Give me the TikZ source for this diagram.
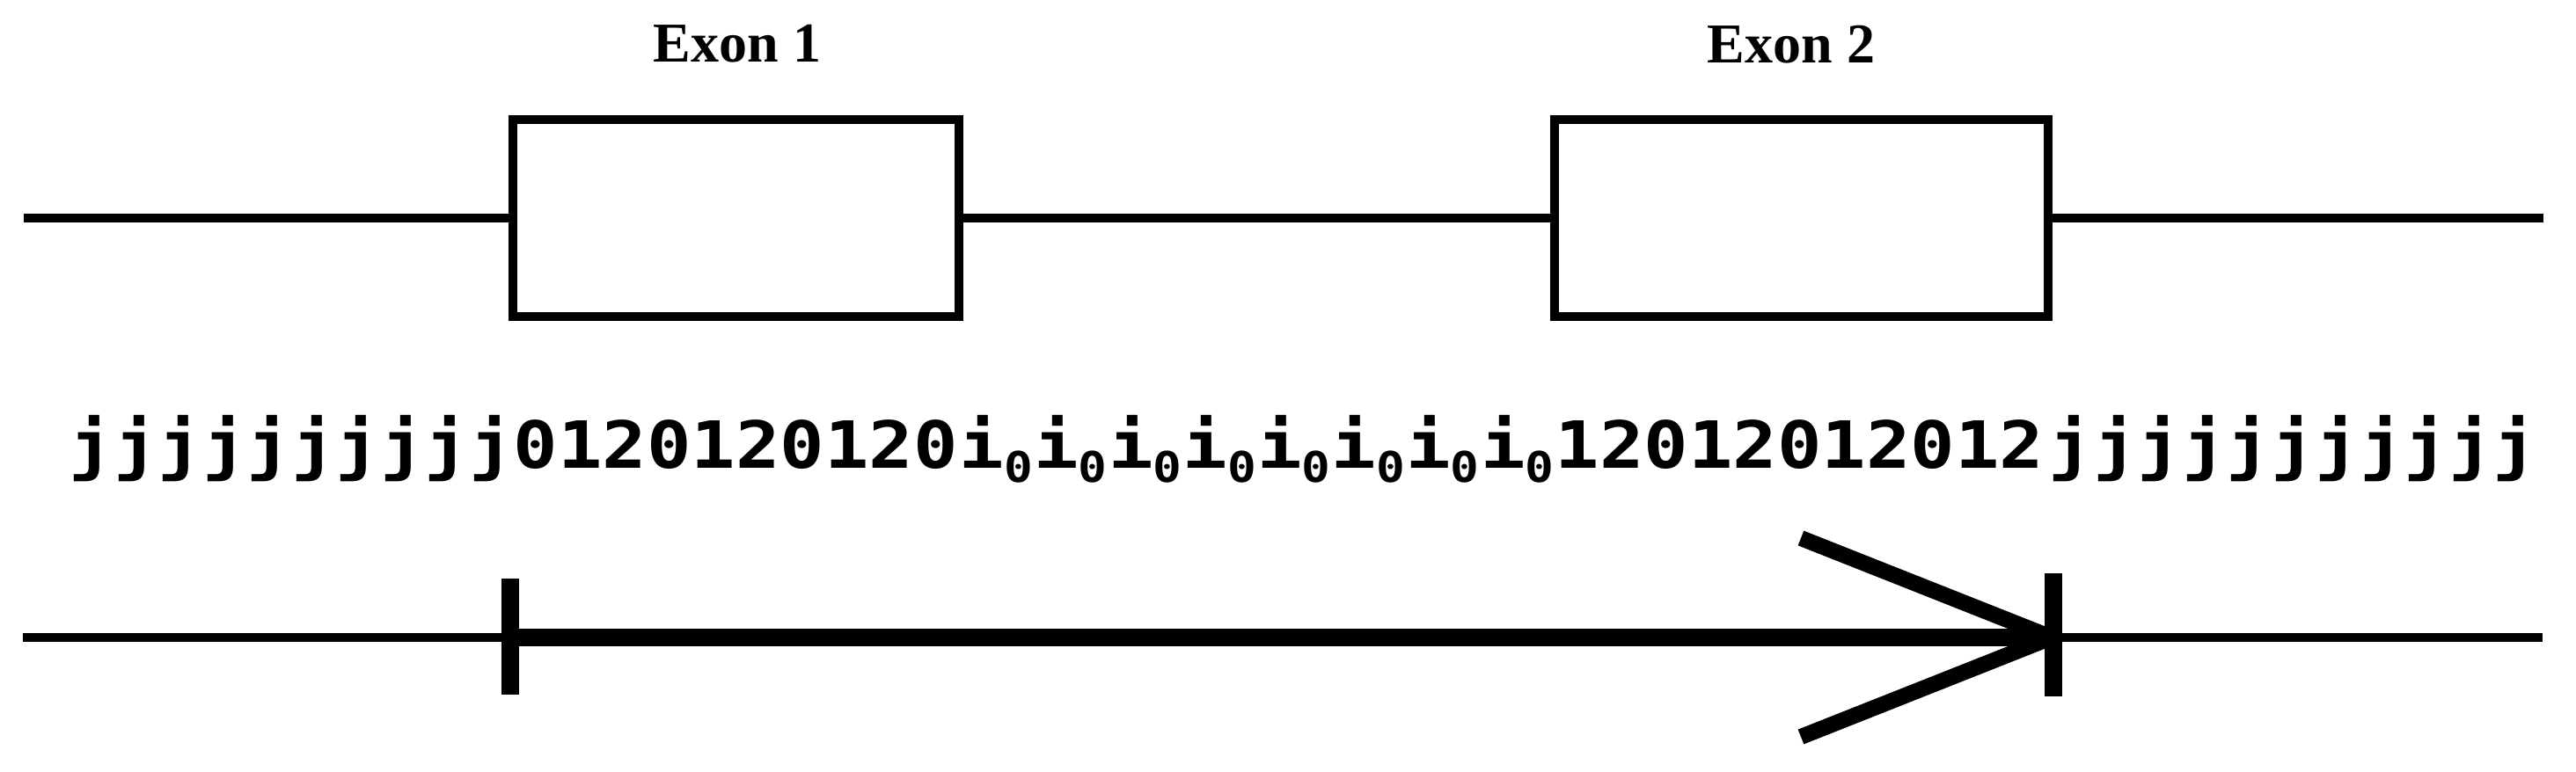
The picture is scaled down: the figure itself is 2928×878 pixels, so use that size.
\documentclass[tikz,border=0pt]{standalone}
\usepackage{fontspec}
\newfontfamily\seqfont[FakeStretch=1.134]{DejaVu Sans Mono}
\newfontfamily\labelfont{Liberation Serif}
\newcommand\izero{\makebox[21.15pt][l]{i\raisebox{-4pt}{\fontsize{12pt}{12pt}\selectfont 0}}}
\tikzset{
  gline/.style={line width=2.5pt},
  exonbox/.style={draw, line width=2.5pt, inner sep=0pt, outer sep=0pt, minimum height=56.125pt},
  exonlabel/.style={font=\labelfont\bfseries\fontsize{16pt}{16pt}\selectfont, inner sep=0pt, anchor=base},
  seq/.style={font=\seqfont\bfseries\fontsize{18.5pt}{18.5pt}\selectfont, inner sep=0pt, anchor=base west},
  tickmark/.style={line width=4.8pt},
  shaft/.style={line width=5pt},
  arm/.style={line width=4.5pt},
}
\begin{document}
\begin{tikzpicture}[x=0.25pt, y=-0.25pt]
\useasboundingbox (0,0) rectangle (2928,878);
% exon boxes
\node[exonbox, minimum width=126.75pt] (ex1) at (836.5,247.75) {};
\node[exonbox, minimum width=140.375pt] (ex2) at (2047.25,247.75) {};
% labels
\node[exonlabel] (lab1) at (838,70) {Exon 1};
\node[exonlabel] (lab2) at (2036,71) {Exon 2};
% gene line
\coordinate (tl) at (27,247.75);
\coordinate (tr) at (2891,247.75);
\draw[gline] (tl) -- (ex1.west);
\draw[gline] (ex1.east) -- (ex2.west);
\draw[gline] (ex2.east) -- (tr);
% sequence
\node[seq] (jl) at (78,532) {jjjjjjjjjj};
\node[seq] (e1) at (583,532) {0120120120};
\node[seq] (intr) at (1090,532) {\izero\izero\izero\izero\izero\izero\izero\izero};
\node[seq] (e2) at (1767,532) {12012012012};
\node[seq] (jr) at (2328,532) {jjjjjjjjjjj};
% bottom line and arrow
\coordinate (bl) at (26,725);
\coordinate (br) at (2890,725);
\draw[gline] (bl) -- (br);
\coordinate (start) at (580,725);
\coordinate (tip) at (2332,725);
\draw[shaft] (start) -- (tip);
\coordinate (t1a) at (580,658);
\coordinate (t1b) at (580,790);
\coordinate (t2a) at (2334,652);
\coordinate (t2b) at (2334,792);
\draw[tickmark] (t1a) -- (t1b);
\draw[tickmark] (t2a) -- (t2b);
\coordinate (au) at (2047,612);
\coordinate (ad) at (2047,838);
\draw[arm] (au) -- (tip);
\draw[arm] (ad) -- (tip);
\end{tikzpicture}
\end{document}
